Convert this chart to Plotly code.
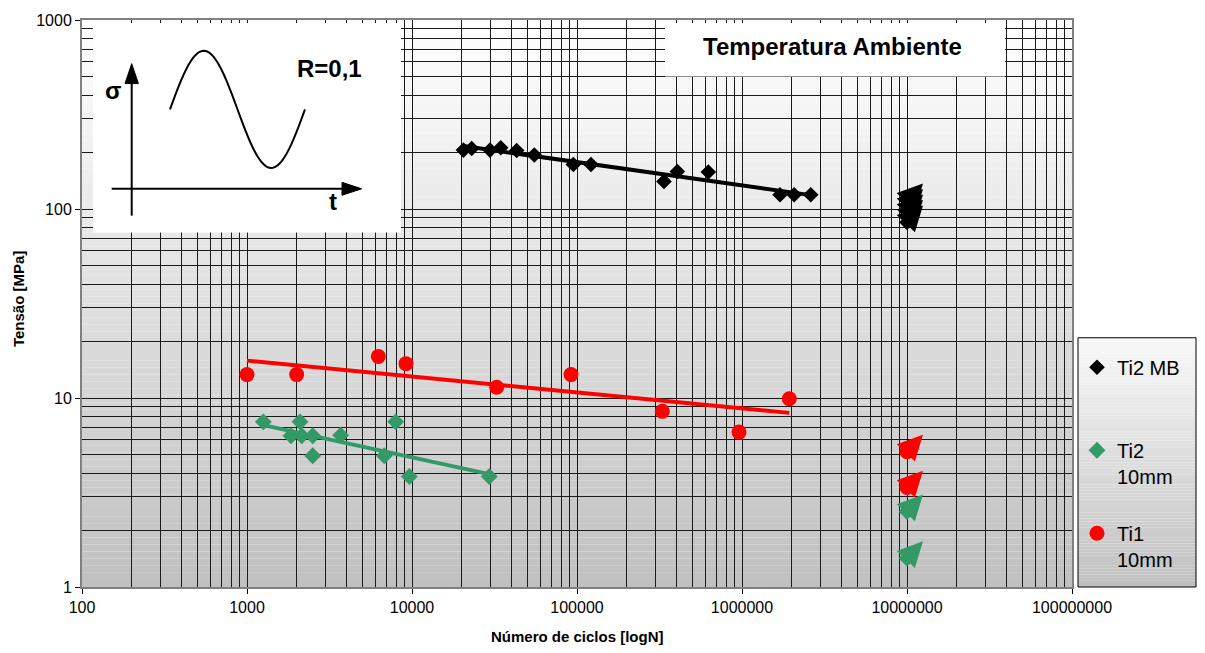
import numpy as np
import plotly.graph_objects as go

# ---------------- data ----------------
# Ti2 MB (base metal)
mb_N = [20500, 23000, 29700, 34500, 43100, 55100, 95000, 121600, 336600, 405600, 625000, 1.70e6, 2.07e6, 2.61e6]
mb_S = [205, 209, 205, 211, 204, 193, 172, 172, 140, 158, 157, 119, 119, 119]
mb_run_N = [1e7, 1e7, 1e7, 1e7, 1e7]
mb_run_S = [111, 104, 97, 91, 85]

# Ti2 10mm
g_N = [1256, 1848, 2095, 2146, 2502, 2502, 3698, 6795, 7966, 9636, 29400]
g_S = [7.48, 6.31, 7.48, 6.31, 6.31, 4.95, 6.36, 4.95, 7.48, 3.84, 3.84]
g_run_N = [1e7, 1e7]
g_run_S = [2.51, 1.42]

# Ti1 10mm
r_N = [1000, 2000, 6250, 9200, 32600, 92000, 329000, 959000, 1.935e6]
r_S = [13.3, 13.3, 16.6, 15.2, 11.4, 13.3, 8.5, 6.6, 9.9]
r_run_N = [1e7, 1e7]
r_run_S = [5.2, 3.36]

x_tickvals = [1e2, 1e3, 1e4, 1e5, 1e6, 1e7, 1e8]
x_ticktext = ["100", "1000", "10000", "100000", "1000000", "10000000", "100000000"]
y_tickvals = [1, 10, 100, 1000]
y_ticktext = ["1", "10", "100", "1000"]

BLACK = "#000000"
GREEN = "#339966"
RED = "#ff0000"
FONT = "Arial, Liberation Sans, sans-serif"

# plot area in pixels (for layout decorations)
L, R_, T, B = 82, 1072, 16, 587
W, H = 1205, 653
X_RANGE = [2, 8]
Y_RANGE = [0, 3]
PX_PER_DEC_X = (R_ - L) / (X_RANGE[1] - X_RANGE[0])
PX_PER_DEC_Y = (B - T) / (Y_RANGE[1] - Y_RANGE[0])


def px(x):
    return (x - L) / (R_ - L)


def py(y):
    return (B - y) / (B - T)


def power_fit(N, S):
    lx, ly = np.log10(N), np.log10(S)
    b, a = np.polyfit(lx, ly, 1)
    xs = np.array([min(N), max(N)])
    return xs, 10 ** (a + b * np.log10(xs))


fig = go.Figure()

series = [
    ("Ti2 MB<br> ", mb_N, mb_S, mb_run_N, mb_run_S, BLACK, "diamond", 12),
    ("Ti2<br>10mm", g_N, g_S, g_run_N, g_run_S, GREEN, "diamond", 13),
    ("Ti1<br>10mm", r_N, r_S, r_run_N, r_run_S, RED, "circle", 15),
]

annotations = []
for i, (name, N, S, rN, rS, col, sym, sz) in enumerate(series):
    fx, fy = power_fit(N, S)
    fig.add_trace(go.Scatter(x=fx, y=fy, mode="lines", line=dict(color=col, width=4),
                             showlegend=False, hoverinfo="skip"))
    fig.add_trace(go.Scatter(x=N, y=S, mode="markers", name=name, legendgroup=str(i),
                             marker=dict(symbol=sym, size=sz, color=col)))
    fig.add_trace(go.Scatter(x=rN, y=rS, mode="markers", showlegend=False, legendgroup=str(i),
                             marker=dict(symbol=sym, size=sz, color=col)))
    # run-out arrows (pointing up-right from each run-out point)
    for xn, ys in zip(rN, rS):
        lxn, lys = np.log10(xn), np.log10(ys)
        annotations.append(dict(x=lxn + 16 / PX_PER_DEC_X, y=lys + 17 / PX_PER_DEC_Y,
                                ax=lxn, ay=lys, xref="x", yref="y", axref="x", ayref="y",
                                text="", showarrow=True,
                                arrowhead=2, arrowsize=1.0, arrowwidth=5, arrowcolor=col,
                                standoff=0, startstandoff=0))

shapes = []
# gradient background of plot area
n = 80
for k in range(n):
    t0 = k / n
    c = int(round(192 + (255 - 192) * (t0 + 0.5 / n)))
    shapes.append(dict(type="rect", xref="paper", yref="paper", x0=0, x1=1, y0=t0, y1=(k + 1) / n,
                       fillcolor=f"rgb({c},{c},{c})", line=dict(width=0), layer="below"))

# legend box gradient
lx0, lx1 = px(1078), px(1196)
ly0, ly1 = py(587), py(336)
for k in range(n):
    t0 = ly0 + (ly1 - ly0) * k / n
    t1 = ly0 + (ly1 - ly0) * (k + 1) / n
    c = int(round(192 + (248 - 192) * ((k + 0.5) / n)))
    shapes.append(dict(type="rect", xref="paper", yref="paper", x0=lx0, x1=lx1, y0=t0, y1=t1,
                       fillcolor=f"rgb({c},{c},{c})", line=dict(width=0), layer="below"))
shapes.append(dict(type="rect", xref="paper", yref="paper", x0=lx0, x1=lx1, y0=ly0, y1=ly1,
                   line=dict(color="black", width=1), layer="above"))

# white inset box and title box
shapes.append(dict(type="rect", xref="paper", yref="paper", x0=px(93), x1=px(401), y0=py(230), y1=py(19),
                   fillcolor="white", line=dict(width=0), layer="above"))
shapes.append(dict(type="rect", xref="paper", yref="paper", x0=px(665), x1=px(1005), y0=py(73), y1=py(19),
                   fillcolor="white", line=dict(width=0), layer="above"))

# schematic sine wave in the inset
xs_p = np.linspace(170, 305, 60)
ys_p = 106 - 59 * np.sin(2 * np.pi * (xs_p - 170) / 135)
path = "M " + " L ".join(f"{px(a):.5f},{py(b):.5f}" for a, b in zip(xs_p, ys_p))
shapes.append(dict(type="path", xref="paper", yref="paper", path=path,
                   line=dict(color="black", width=2), layer="above"))
# inset axes
shapes.append(dict(type="line", xref="paper", yref="paper", x0=px(131.7), x1=px(131.7), y0=py(213), y1=py(78),
                   line=dict(color="black", width=2), layer="above"))
shapes.append(dict(type="path", xref="paper", yref="paper",
                   path=f"M {px(131.7)},{py(60)} L {px(125)},{py(80)} L {px(138.4)},{py(80)} Z",
                   fillcolor="black", line=dict(color="black", width=1), layer="above"))
shapes.append(dict(type="line", xref="paper", yref="paper", x0=px(111.7), x1=px(344), y0=py(186), y1=py(186),
                   line=dict(color="black", width=2), layer="above"))
shapes.append(dict(type="path", xref="paper", yref="paper",
                   path=f"M {px(361.7)},{py(186)} L {px(342)},{py(179.5)} L {px(342)},{py(192.5)} Z",
                   fillcolor="black", line=dict(color="black", width=1), layer="above"))


def txt(x, y, s, size, angle=0):
    return dict(x=px(x), y=py(y), xref="paper", yref="paper", text=s, showarrow=False,
                xanchor="center", yanchor="middle", textangle=angle,
                font=dict(family=FONT, size=size, color="black"))


annotations += [
    txt(113, 87, "<b>σ</b>", 24),
    txt(333, 199, "<b>t</b>", 24),
    txt(329, 65, "<b>R=0,1</b>", 24),
    txt(832, 43, "<b>Temperatura Ambiente</b>", 24),
    txt(577, 637, "<b>Número de ciclos [logN]</b>", 15),
    txt(18, 297, "<b>Tensão [MPa]</b>", 15, -90),
]

minor_x = [m * 10 ** e for e in range(2, 8) for m in range(2, 10)]
minor_y = [m * 10 ** e for e in range(0, 3) for m in range(2, 10)]

axis_common = dict(type="log", showgrid=True, gridcolor="#1a1a1a", gridwidth=1,
                   showline=True, linecolor="#808080", linewidth=2, mirror=True,
                   ticks="outside", ticklen=5, tickcolor="black", zeroline=False,
                   tickfont=dict(family=FONT, size=16, color="black"))

fig.update_layout(
    width=W, height=H,
    margin=dict(l=L, r=W - R_, t=T, b=H - B),
    paper_bgcolor="white", plot_bgcolor="white",
    showlegend=True,
    legend=dict(x=px(1077), y=py(346), xanchor="left", yanchor="top",
                bgcolor="rgba(0,0,0,0)", borderwidth=0, tracegroupgap=28,
                valign="top", font=dict(family=FONT, size=20, color="black")),
    xaxis=dict(range=X_RANGE, tickvals=x_tickvals, ticktext=x_ticktext,
               minor=dict(tickvals=minor_x, showgrid=True, gridcolor="#1a1a1a", gridwidth=1, ticks=""),
               **axis_common),
    yaxis=dict(range=Y_RANGE, tickvals=y_tickvals, ticktext=y_ticktext,
               minor=dict(tickvals=minor_y, showgrid=True, gridcolor="#1a1a1a", gridwidth=1, ticks=""),
               **axis_common),
    shapes=shapes,
    annotations=annotations,
)

fig.write_html("out.html", config={"displayModeBar": False},
               post_script="document.body.style.margin='0px';")
